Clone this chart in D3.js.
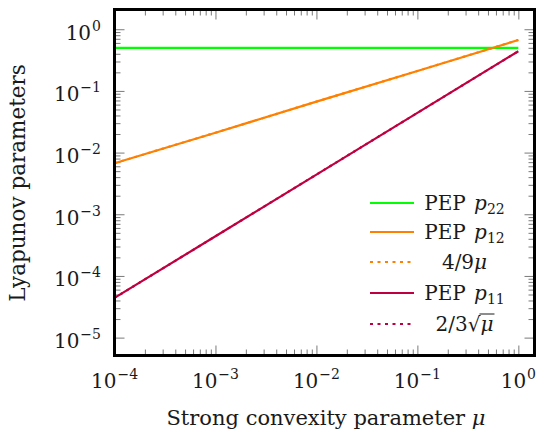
<!DOCTYPE html>
<html>
<head>
<meta charset="utf-8">
<script src="https://cdn.jsdelivr.net/npm/d3@7"></script>
<style>
  body { margin: 0; background: #fff; }
</style>
</head>
<body>
<div id="chart"></div>
<script>
// values (straight lines on log-log, so decade points are enough)
const mu = [1e-4, 1e-3, 1e-2, 1e-1, 1];
const pep22 = [0.5, 0.5, 0.5, 0.5, 0.5];
const pep12 = [0.0067, 0.021, 0.067, 0.21, 0.67];
const ref12 = [0.0067, 0.021, 0.067, 0.21, 0.67];
const pep11 = [4.4e-5, 4.4e-4, 4.4e-3, 0.044, 0.44];
const ref11 = [4.4e-5, 4.4e-4, 4.4e-3, 0.044, 0.44];
const xTickExp = [-4, -3, -2, -1, 0];
const yTickExp = [-5, -4, -3, -2, -1, 0];

const W = 536, H = 431;
const plot = { left: 114.5, right: 534.5, top: 9.5, bottom: 355.5 };
const FONT = "'DejaVu Serif', serif";

const svg = d3.select("#chart").append("svg")
  .attr("width", W).attr("height", H)
  .attr("font-family", FONT)
  .style("font-family", FONT);

const x = d3.scaleLog().domain([1e-4, Math.pow(10, 0.16)]).range([plot.left, plot.right]);
const y = d3.scaleLog().domain([Math.pow(10, -5.29), Math.pow(10, 0.32)]).range([plot.bottom, plot.top]);

// minor ticks only between majors
function minors(exps) {
  const out = [];
  for (let e = exps[0]; e < exps[exps.length - 1]; e++)
    for (let k = 2; k <= 9; k++) out.push(k * Math.pow(10, e));
  return out;
}
const xMajor = xTickExp.map(e => Math.pow(10, e));
const yMajor = yTickExp.map(e => Math.pow(10, e));

const tickCol = "#7a7a7a";
function addTicks(axisFn, scale, values, len, transform) {
  const g = svg.append("g")
    .attr("transform", transform)
    .call(axisFn(scale).tickValues(values).tickSize(-len).tickFormat(""));
  g.select(".domain").remove();
  g.selectAll("line").attr("stroke", tickCol).attr("stroke-width", 1);
}
addTicks(d3.axisBottom, x, xMajor, 10, `translate(0,${plot.bottom})`);
addTicks(d3.axisBottom, x, minors(xTickExp), 6, `translate(0,${plot.bottom})`);
addTicks(d3.axisTop, x, xMajor, 10, `translate(0,${plot.top})`);
addTicks(d3.axisTop, x, minors(xTickExp), 6, `translate(0,${plot.top})`);
addTicks(d3.axisLeft, y, yMajor, 10, `translate(${plot.left},0)`);
addTicks(d3.axisLeft, y, minors(yTickExp), 6, `translate(${plot.left},0)`);
addTicks(d3.axisRight, y, yMajor, 10, `translate(${plot.right},0)`);
addTicks(d3.axisRight, y, minors(yTickExp), 6, `translate(${plot.right},0)`);

// series
const green = "#00ff00", orange = "#ff8000", purple = "#bf0040";
const line = d3.line().x(d => x(d[0])).y(d => y(d[1]));
const series = [
  { vals: pep22, color: green, dash: null },
  { vals: pep12, color: orange, dash: null },
  { vals: ref12, color: orange, dash: "2.5 4.5" },
  { vals: pep11, color: purple, dash: null },
  { vals: ref11, color: purple, dash: "2.5 4.5" }
];
series.forEach(s => {
  svg.append("path")
    .datum(mu.map((m, i) => [m, s.vals[i]]))
    .attr("d", line)
    .attr("fill", "none")
    .attr("stroke", s.color)
    .attr("stroke-width", 2.2)
    .attr("stroke-dasharray", s.dash);
});

// frame
svg.append("rect")
  .attr("x", plot.left).attr("y", plot.top)
  .attr("width", plot.right - plot.left).attr("height", plot.bottom - plot.top)
  .attr("fill", "none").attr("stroke", "#000").attr("stroke-width", 3);

// tick labels 10^e
function powLabel(sel, e) {
  sel.append("tspan").attr("font-size", 20).text("10");
  sel.append("tspan").attr("font-size", 14).attr("dy", -9).attr("dx", 1)
    .text(e < 0 ? "\u2212" + (-e) : String(e));
}
xTickExp.forEach(e => {
  const t = svg.append("text")
    .attr("x", x(Math.pow(10, e))).attr("y", 388)
    .attr("text-anchor", "middle").attr("fill", "#1a1a1a");
  powLabel(t, e);
});
yTickExp.forEach(e => {
  const t = svg.append("text")
    .attr("x", 101).attr("y", y(Math.pow(10, e)) + 10.5)
    .attr("text-anchor", "end").attr("fill", "#1a1a1a");
  powLabel(t, e);
});

// axis titles
const xl = svg.append("text")
  .attr("x", 326).attr("y", 425)
  .attr("text-anchor", "middle").attr("font-size", 21)
  .attr("fill", "#1a1a1a");
xl.append("tspan").text("Strong convexity parameter ");
xl.append("tspan").attr("font-style", "italic").text("\u03bc");

svg.append("text")
  .attr("transform", "translate(25,183) rotate(-90)")
  .attr("text-anchor", "middle").attr("font-size", 21.5)
  .attr("fill", "#1a1a1a")
  .text("Lyapunov parameters");

// legend
const legendRows = [
  { color: green, dash: null, label: "p22" },
  { color: orange, dash: null, label: "p12" },
  { color: orange, dash: "3 4.5", label: "4/9" },
  { color: purple, dash: null, label: "p11" },
  { color: purple, dash: "3 4.5", label: "2/3" }
];
const rowY = [203, 232, 262, 293, 324];
legendRows.forEach((r, i) => {
  const yy = rowY[i];
  svg.append("line")
    .attr("x1", 370).attr("x2", 414).attr("y1", yy).attr("y2", yy)
    .attr("stroke", r.color).attr("stroke-width", 2.2)
    .attr("stroke-dasharray", r.dash);
  const t = svg.append("text")
    .attr("x", 464.5).attr("y", yy + 7)
    .attr("text-anchor", "middle").attr("font-size", 20)
    .attr("fill", "#1a1a1a");
  if (r.label[0] === "p") {
    t.append("tspan").text("PEP ");
    t.append("tspan").attr("font-style", "italic").attr("dx", 2).text("p");
    t.append("tspan").attr("font-size", 14).attr("dy", 4).text(r.label.slice(1));
  } else if (r.label === "4/9") {
    t.append("tspan").text("4/9");
    t.append("tspan").attr("font-style", "italic").text("\u03bc");
  } else {
    t.append("tspan").text("2/3\u221a");
    t.append("tspan").attr("font-style", "italic").text("\u03bc");
    // overline of the root over mu
    const node = t.node();
    const n = node.getNumberOfChars();
    const a = node.getStartPositionOfChar(n - 1).x;
    const b = node.getEndPositionOfChar(n - 1).x;
    svg.append("line")
      .attr("x1", a - 1).attr("x2", b + 1)
      .attr("y1", yy - 10).attr("y2", yy - 10)
      .attr("stroke", "#1a1a1a").attr("stroke-width", 1);
  }
});
</script>
</body>
</html>
